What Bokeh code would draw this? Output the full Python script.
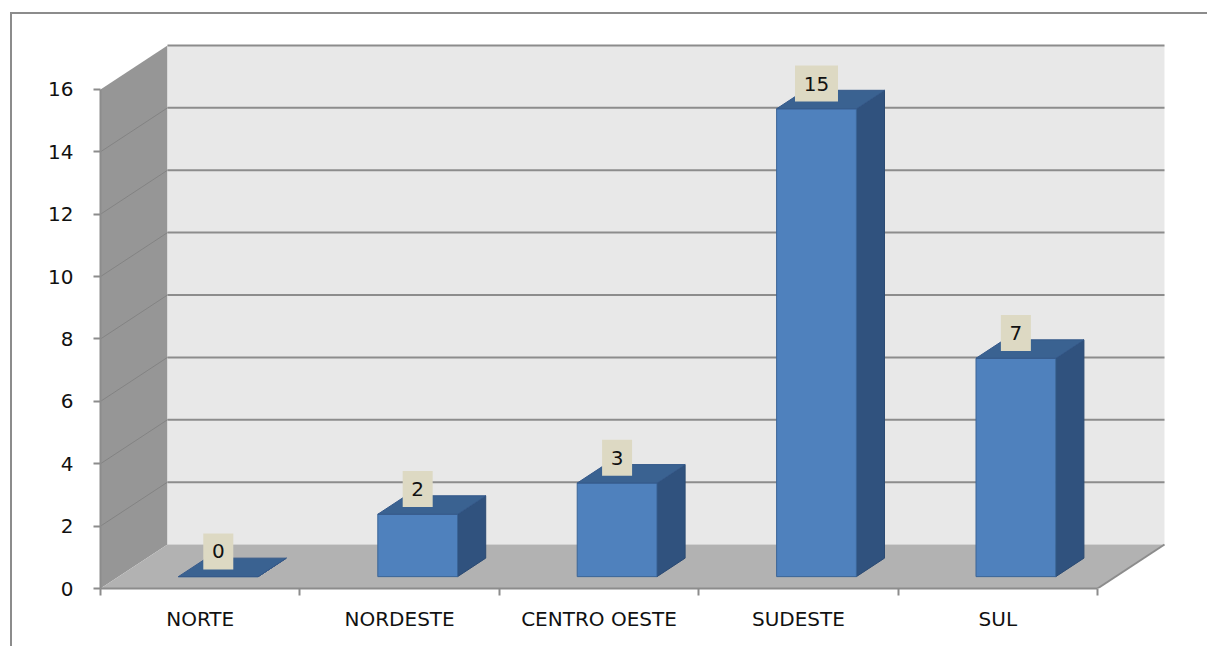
from bokeh.plotting import figure
from bokeh.models import Range1d, FixedTicker, ColumnDataSource
from bokeh.core.properties import value
from bokeh.embed import file_html
from bokeh.resources import INLINE

# ---- data ----
categories = ["NORTE", "NORDESTE", "CENTRO OESTE", "SUDESTE", "SUL"]
values = [0, 2, 3, 15, 7]
y_ticks = [0, 2, 4, 6, 8, 10, 12, 14, 16]

# ---- 3-D look settings (data units) ----
DEPTH_X = 0.336      # depth shift in category units
DEPTH_Y = 1.41       # depth shift in value units
F0, F1 = 0.27, 0.69  # bar depth span (fraction of full depth)
BAR_W = 0.40
Y_MAX = y_ticks[-1]
n = len(categories)
FONT = "DejaVu Sans"

p = figure(width=1195, height=632,
           x_range=Range1d(0, 1080 / 199.4), y_range=Range1d(0, 558 / 31.19),
           output_backend="svg", toolbar_location=None,
           min_border_left=88, min_border_right=27,
           min_border_top=16, min_border_bottom=58)
p.margin = (14, 0, 0, 12)
p.styles = {"box-shadow": "-2px 0 0 0 #8c8c8c, 0 -2px 0 0 #8c8c8c, -2px -2px 0 0 #8c8c8c"}
p.outline_line_color = None
p.grid.visible = False
p.background_fill_color = "white"
p.border_fill_color = "white"

# ---- walls ----
side_wall = ColumnDataSource(dict(
    xs=[[0, DEPTH_X, DEPTH_X, 0]],
    ys=[[0, DEPTH_Y, Y_MAX + DEPTH_Y, Y_MAX]]))
p.patches("xs", "ys", source=side_wall, fill_color="#969696", line_color=None)

p.quad(left=[DEPTH_X], right=[n + DEPTH_X], bottom=[DEPTH_Y], top=[Y_MAX + DEPTH_Y],
       fill_color="#e8e8e8", line_color=None)

floor = ColumnDataSource(dict(
    xs=[[0, n, n + DEPTH_X, DEPTH_X]],
    ys=[[0, 0, DEPTH_Y, DEPTH_Y]]))
p.patches("xs", "ys", source=floor, fill_color="#b2b2b2", line_color=None)

# gridlines on back wall and side wall
grid_vals = [t for t in y_ticks if t > 0]
p.segment(x0=[DEPTH_X] * len(grid_vals), y0=[t + DEPTH_Y for t in grid_vals],
          x1=[n + DEPTH_X] * len(grid_vals), y1=[t + DEPTH_Y for t in grid_vals],
          line_color="#8c8c8c", line_width=2)
side_vals = [t for t in y_ticks if 0 < t < Y_MAX]
p.segment(x0=[0] * len(side_vals), y0=side_vals,
          x1=[DEPTH_X] * len(side_vals), y1=[t + DEPTH_Y for t in side_vals],
          line_color="#838383", line_width=1)
# floor right edge
p.segment(x0=[n], y0=[0], x1=[n + DEPTH_X], y1=[DEPTH_Y], line_color="#8c8c8c", line_width=2)

# ---- bars ----
ddx = (F1 - F0) * DEPTH_X
ddy = (F1 - F0) * DEPTH_Y
yb = F0 * DEPTH_Y
front_l, front_r, tops = [], [], []
top_xs, top_ys, side_xs, side_ys = [], [], [], []
for i, v in enumerate(values):
    xl = i + 0.5 - BAR_W / 2 + F0 * DEPTH_X
    xr = xl + BAR_W
    front_l.append(xl)
    front_r.append(xr)
    tops.append(yb + v)
    top_xs.append([xl, xr, xr + ddx, xl + ddx])
    top_ys.append([yb + v, yb + v, yb + v + ddy, yb + v + ddy])
    side_xs.append([xr, xr + ddx, xr + ddx, xr])
    side_ys.append([yb, yb + ddy, yb + ddy + v, yb + v])

p.patches(side_xs, side_ys, fill_color="#30527e", line_color="#2b4a72", line_width=1)
p.quad(left=front_l, right=front_r, bottom=[yb] * n, top=tops,
       fill_color="#4f81bd", line_color="#3b6597", line_width=1)
p.patches(top_xs, top_ys, fill_color="#3a6291", line_color="#35598a", line_width=1)

# ---- data labels ----
lab_x = [(l + r) / 2 for l, r in zip(front_l, front_r)]
lab_y = [yb + v + ddy / 2 + 16 / 31.19 for v in values]
lab_t = [str(v) for v in values]
lab_w = [17 + 13 * len(t) for t in lab_t]
lsrc = ColumnDataSource(dict(x=lab_x, y=lab_y, t=lab_t, w=lab_w))
p.rect(x="x", y="y", width="w", height=36, width_units="screen", height_units="screen",
       source=lsrc, fill_color="#ddd9c3", line_color=None)
p.text(x="x", y="y", text="t", source=lsrc, text_align="center", text_baseline="middle",
       text_font=value(FONT), text_font_size="20px", text_color="#111111")

# ---- axes ----
ax = p.yaxis[0]
ax.ticker = FixedTicker(ticks=y_ticks, minor_ticks=[])
ax.bounds = (0, Y_MAX)
ax.axis_line_color = "#8c8c8c"
ax.axis_line_width = 2
ax.major_tick_out = 7
ax.major_tick_in = 0
ax.major_tick_line_color = "#8c8c8c"
ax.major_tick_line_width = 2
ax.minor_tick_line_color = None
ax.major_label_standoff = 20
ax.major_label_text_font = FONT
ax.major_label_text_font_size = "20px"
ax.major_label_text_color = "#111111"

bx = p.xaxis[0]
centers = [i + 0.5 for i in range(n)]
bx.ticker = FixedTicker(ticks=centers, minor_ticks=list(range(n + 1)))
bx.major_label_overrides = {c: name for c, name in zip(centers, categories)}
bx.bounds = (0, n)
bx.axis_line_color = "#8c8c8c"
bx.axis_line_width = 2
bx.major_tick_line_color = None
bx.major_tick_out = 0
bx.major_tick_in = 0
bx.minor_tick_line_color = "#8c8c8c"
bx.minor_tick_line_width = 2
bx.minor_tick_out = 7
bx.minor_tick_in = 0
bx.major_label_standoff = 11
bx.major_label_text_font = FONT
bx.major_label_text_font_size = "20px"
bx.major_label_text_color = "#111111"

open("out.html", "w").write(file_html(p, INLINE))
